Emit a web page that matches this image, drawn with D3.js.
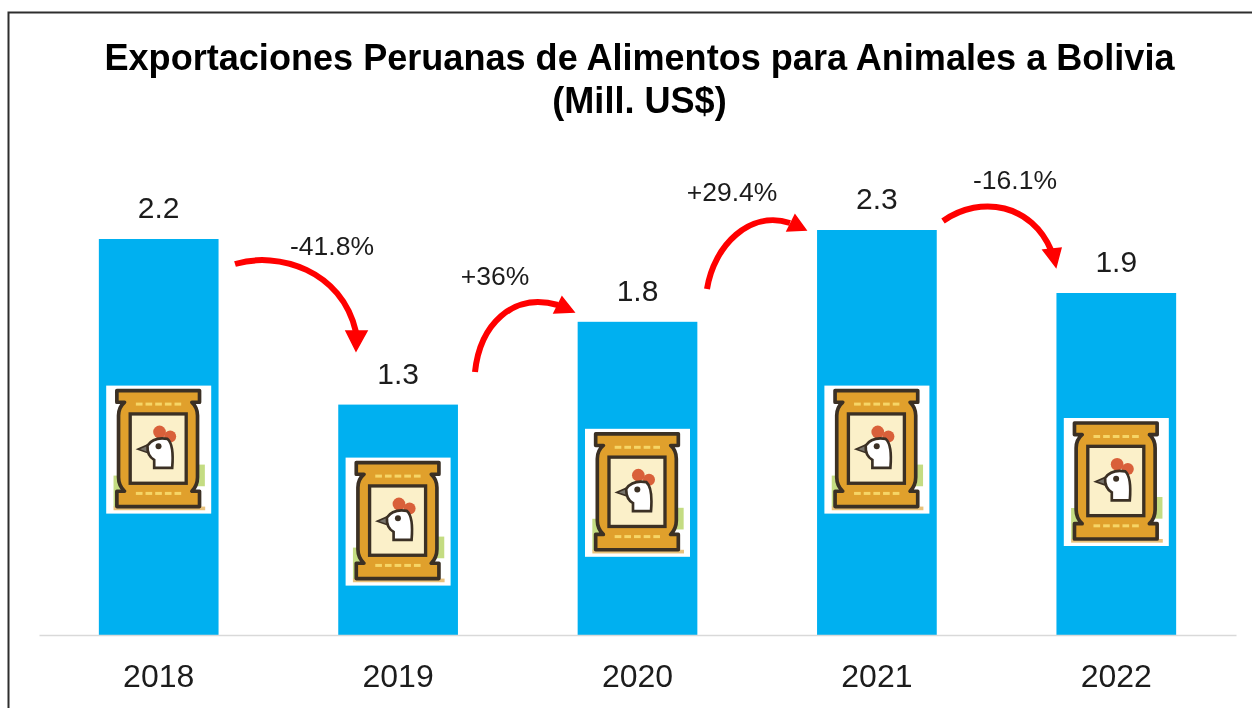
<!DOCTYPE html>
<html>
<head>
<meta charset="utf-8">
<script src="https://cdn.jsdelivr.net/npm/d3@7"></script>
<style>
  html, body { margin: 0; padding: 0; background: #fff; }
  svg { display: block; filter: blur(0.6px); }
  text { font-family: "Liberation Sans", Arial, sans-serif; fill: #1c1c1c; }
</style>
</head>
<body>
<div id="chart"></div>
<script>
var years = ["2018", "2019", "2020", "2021", "2022"];
var values = [2.2, 1.28, 1.74, 2.25, 1.9];
var valueLabels = ["2.2", "1.3", "1.8", "2.3", "1.9"];
var changeLabels = ["-41.8%", "+36%", "+29.4%", "-16.1%"];
var titleLines = ["Exportaciones Peruanas de Alimentos para Animales a Bolivia", "(Mill. US$)"];

var width = 1252, height = 708;
var baseline = 635;

var x = d3.scaleBand().domain(years).range([39, 1236]).paddingInner(0.5).paddingOuter(0.25);
var y = d3.scaleLinear().domain([0, 2.5]).range([baseline, baseline - 450]);

var svg = d3.select("#chart").append("svg")
    .attr("width", width)
    .attr("height", height);

// frame: only top and left are in view
svg.append("path")
    .attr("d", "M8.5," + height + "V12.5H" + width)
    .attr("fill", "none")
    .attr("stroke", "#2e2e2e")
    .attr("stroke-width", 2);

svg.append("g").selectAll("text")
    .data(titleLines)
    .enter().append("text")
    .attr("x", 639.5)
    .attr("y", function(d, i) { return 70 + i * 43; })
    .attr("text-anchor", "middle")
    .attr("font-size", 36.1)
    .attr("font-weight", "bold")
    .style("fill", "#000")
    .text(function(d) { return d; });

svg.selectAll(".bar")
    .data(values)
    .enter().append("rect")
    .attr("class", "bar")
    .attr("x", function(d, i) { return x(years[i]); })
    .attr("y", function(d) { return y(d); })
    .attr("width", x.bandwidth())
    .attr("height", function(d) { return baseline - y(d); })
    .attr("fill", "#00b0f0");

var axis = svg.append("g")
    .attr("transform", "translate(0," + baseline + ")")
    .call(d3.axisBottom(x).tickSize(0).tickPadding(0));
axis.select(".domain").attr("stroke", "#d9d9d9").attr("stroke-width", 1.5);
axis.selectAll("text")
    .attr("y", 52)
    .attr("dy", 0)
    .attr("font-size", 32)
    .style("font-family", '"Liberation Sans", Arial, sans-serif')
    .style("fill", "#1c1c1c");

svg.selectAll(".value")
    .data(values)
    .enter().append("text")
    .attr("class", "value")
    .attr("x", function(d, i) { return x(years[i]) + x.bandwidth() / 2; })
    .attr("y", function(d) { return y(d) - 21; })
    .attr("text-anchor", "middle")
    .attr("font-size", 30)
    .text(function(d, i) { return valueLabels[i]; });

// feed bag icon, drawn in a 105x128 box
var iconCentres = [1.03, 0.63, 0.79, 1.03, 0.85];

function drawIcon(g) {
  var dark = "#3b3024";
  g.append("rect").attr("x", 0).attr("y", 0).attr("width", 105).attr("height", 128).attr("fill", "#fff");
  var s = g.append("g").attr("transform", "scale(0.3333) translate(-48,-45)");
  s.append("rect").attr("x", 70).attr("y", 315).attr("width", 20).attr("height", 95).attr("fill", "#c4dc82");
  s.append("rect").attr("x", 322).attr("y", 282).attr("width", 22).attr("height", 65).attr("fill", "#c4dc82");
  s.append("rect").attr("x", 70).attr("y", 408).attr("width", 275).attr("height", 11).attr("fill", "#e8c27c");
  s.append("path")
    .attr("d", "M80,60H328V95H305Q322,110 322,135V320Q322,345 305,362H328V408H80V362H103Q85,345 85,320V135Q85,110 103,95H80Z")
    .attr("fill", "#e0a02c").attr("stroke", dark).attr("stroke-width", 11).attr("stroke-linejoin", "round");
  [100, 368].forEach(function(dotY) {
    d3.range(5).forEach(function(k) {
      s.append("rect").attr("x", 137 + k * 29).attr("y", dotY - 4).attr("width", 20).attr("height", 9).attr("fill", "#f6d566");
    });
  });
  s.append("rect").attr("x", 120).attr("y", 130).attr("width", 168).attr("height", 208)
    .attr("fill", "#fbf0c9").attr("stroke", dark).attr("stroke-width", 10);
  s.append("circle").attr("cx", 208).attr("cy", 184).attr("r", 19).attr("fill", "#d9603a");
  s.append("circle").attr("cx", 240).attr("cy", 198).attr("r", 18).attr("fill", "#d9603a");
  s.append("path").attr("d", "M175,222L143,236L175,247Z").attr("fill", "#77736a").attr("stroke", dark).attr("stroke-width", 5);
  s.append("path")
    .attr("d", "M172,225Q190,198 232,205Q252,222 246,292H192V268Q170,255 172,225Z")
    .attr("fill", "#fff").attr("stroke", dark).attr("stroke-width", 8);
  s.append("circle").attr("cx", 205).attr("cy", 227).attr("r", 9).attr("fill", dark);
}

svg.selectAll(".icon")
    .data(iconCentres)
    .enter().append("g")
    .attr("class", "icon")
    .attr("transform", function(d, i) {
      return "translate(" + (x(years[i]) + x.bandwidth() / 2 - 52.5) + "," + (y(d) - 64) + ")";
    })
    .each(function() { drawIcon(d3.select(this)); });

// change arrows between bars, annotation layout in page pixels
var arrowCurves = [
  "M235,264C278,251 342,270 356,332",
  "M475,372C480,325 512,292 558,305",
  "M707,289C714,245 750,210 790,223",
  "M943,221C982,194 1032,205 1051,250"
];
var arrowHeads = [
  "M346,331L367,331L356,351Z",
  "M562,297L574,312L554,313Z",
  "M795,215L806,230L787,231Z",
  "M1043,250L1061,248L1056,267Z"
];
var changeAnchors = [[332, 255], [495, 285], [732, 201], [1015, 189]];

svg.selectAll(".curve")
    .data(arrowCurves)
    .enter().append("path")
    .attr("class", "curve")
    .attr("d", function(d) { return d; })
    .attr("fill", "none")
    .attr("stroke", "#ff0000")
    .attr("stroke-width", 6);

svg.selectAll(".head")
    .data(arrowHeads)
    .enter().append("path")
    .attr("class", "head")
    .attr("d", function(d) { return d; })
    .attr("fill", "#ff0000")
    .attr("stroke", "#ff0000")
    .attr("stroke-width", 1.5);

svg.selectAll(".change")
    .data(changeLabels)
    .enter().append("text")
    .attr("class", "change")
    .attr("x", function(d, i) { return changeAnchors[i][0]; })
    .attr("y", function(d, i) { return changeAnchors[i][1]; })
    .attr("text-anchor", "middle")
    .attr("font-size", 26.5)
    .text(function(d) { return d; });
</script>
</body>
</html>
